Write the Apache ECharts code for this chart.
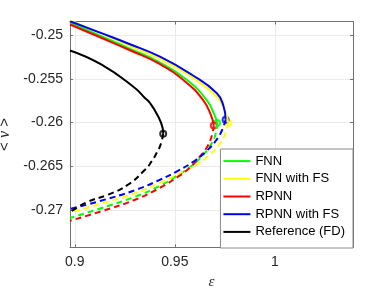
<!DOCTYPE html>
<html>
<head>
<meta charset="utf-8">
<script src="https://cdn.jsdelivr.net/npm/echarts@6/dist/echarts.min.js"></script>
<style>
  html, body { margin: 0; padding: 0; background: #fff; }
  #chartLine { width: 390px; height: 293px; }
</style>
</head>
<body>
<div id="chartLine"></div>
<script>
  // [epsilon, <v>]; upper branch solid, lower branch dashed
  var fnnUpper = [[0.8976, -0.24854], [0.9126, -0.25003], [0.9276, -0.25153], [0.9426, -0.25311], [0.9560, -0.25508], [0.9658, -0.25737], [0.9698, -0.25909], [0.9712, -0.26005]];
  var fnnLower = [[0.9712, -0.26005], [0.9703, -0.26139], [0.9680, -0.26253], [0.9640, -0.26374], [0.9585, -0.26494], [0.9516, -0.26603], [0.9426, -0.26724], [0.9301, -0.26850], [0.9131, -0.26982], [0.8976, -0.27094]];

  var fnnFsUpper = [[0.8976, -0.24826], [0.9126, -0.24971], [0.9276, -0.25118], [0.9426, -0.25267], [0.9575, -0.25462], [0.9690, -0.25661], [0.9745, -0.25829], [0.9767, -0.26001]];
  var fnnFsLower = [[0.9767, -0.26001], [0.9755, -0.26116], [0.9725, -0.26242], [0.9675, -0.26368], [0.9605, -0.26489], [0.9516, -0.26592], [0.9426, -0.26689], [0.9301, -0.26810], [0.9131, -0.26930], [0.8976, -0.27030]];

  var rpnnUpper = [[0.8976, -0.24874], [0.9126, -0.25021], [0.9276, -0.25170], [0.9426, -0.25330], [0.9550, -0.25525], [0.9640, -0.25737], [0.9680, -0.25909], [0.9695, -0.26032]];
  var rpnnLower = [[0.9695, -0.26032], [0.9685, -0.26150], [0.9665, -0.26265], [0.9625, -0.26391], [0.9575, -0.26517], [0.9516, -0.26620], [0.9426, -0.26747], [0.9301, -0.26884], [0.9131, -0.27018], [0.8976, -0.27125]];

  var rpnnFsUpper = [[0.8976, -0.24837], [0.9126, -0.24967], [0.9276, -0.25101], [0.9426, -0.25244], [0.9585, -0.25451], [0.9709, -0.25661], [0.9743, -0.25806], [0.9754, -0.25967]];
  var rpnnFsLower = [[0.9754, -0.25967], [0.9735, -0.26093], [0.9705, -0.26208], [0.9660, -0.26322], [0.9600, -0.26437], [0.9516, -0.26552], [0.9426, -0.26655], [0.9301, -0.26775], [0.9131, -0.26896], [0.8976, -0.26991]];

  var refUpper = [[0.8976, -0.25172], [0.9132, -0.25333], [0.9299, -0.25600], [0.9349, -0.25714], [0.9376, -0.25775], [0.9417, -0.25929], [0.9439, -0.26062], [0.9442, -0.26127]];
  var refLower = [[0.9442, -0.26127], [0.9429, -0.26253], [0.9409, -0.26349], [0.9384, -0.26445], [0.9351, -0.26540], [0.9266, -0.26712], [0.9166, -0.26827], [0.9066, -0.26907], [0.8976, -0.27028]];

  var names = ['FNN', 'FNN with FS', 'RPNN', 'RPNN with FS', 'Reference (FD)'];
  var colors = ['#00ff00', '#ffff00', '#ff0000', '#0000ff', '#000000'];
  var uppers = [fnnUpper, fnnFsUpper, rpnnUpper, rpnnFsUpper, refUpper];
  var lowers = [fnnLower, fnnFsLower, rpnnLower, rpnnFsLower, refLower];

  var xTicks = [0.9, 0.95, 1];
  var yTicks = [-0.27, -0.265, -0.26, -0.255, -0.25];

  var font = 'Liberation Sans, Arial, Helvetica, sans-serif';
  var txt = '#262626';

  var series = [];
  for (var i = 0; i < names.length; i++) {
    series.push({
      name: names[i],
      type: 'line',
      data: uppers[i],
      smooth: 0.5,
      symbol: 'none',
      lineStyle: { color: colors[i], width: 2 },
      itemStyle: { color: colors[i] }
    });
    series.push({
      name: names[i] + ' lower',
      type: 'line',
      data: lowers[i],
      smooth: 0.5,
      symbol: 'none',
      lineStyle: { color: colors[i], width: 2, type: [6, 4] }
    });
    series.push({
      name: names[i] + ' fold',
      type: 'scatter',
      data: [uppers[i][uppers[i].length - 1]],
      symbol: 'circle',
      symbolSize: 6,
      itemStyle: { color: '#fff', borderColor: colors[i], borderWidth: 2 }
    });
  }

  var tickStyle = { color: '#707070' };
  var lineAxis = { show: true, onZero: false, lineStyle: { color: '#707070', width: 1 } };
  var grid = { show: true, lineStyle: { color: '#ebebeb', width: 1 } };

  var chart = echarts.init(document.getElementById('chartLine'));
  chart.setOption({
    animation: false,
    backgroundColor: '#fff',
    grid: { left: 70, right: 37, top: 21.5, bottom: 45.7, outerBoundsMode: 'none', containLabel: false },
    legend: {
      data: names,
      icon: 'rect',
      orient: 'vertical',
      right: 37,
      bottom: 45,
      itemWidth: 27,
      itemHeight: 2,
      itemGap: 3.5,
      padding: [5, 8, 9, 3],
      backgroundColor: '#fff',
      borderColor: '#8a8a8a',
      borderWidth: 1,
      textStyle: { fontFamily: font, fontSize: 13, lineHeight: 14.2, color: '#000' }
    },
    xAxis: [
      {
        type: 'value', min: 0.8976, max: 1.0391,
        name: 'ε', nameLocation: 'middle', nameGap: 24,
        nameTextStyle: { fontFamily: 'Liberation Serif, serif', fontStyle: 'italic', fontSize: 15, color: txt },
        axisLine: lineAxis,
        axisTick: { show: true, inside: true, length: 3, customValues: xTicks, lineStyle: tickStyle },
        axisLabel: {
          show: true, margin: 8, fontFamily: font, fontSize: 14, color: txt,
          customValues: xTicks, formatter: function (v) { return String(+v.toFixed(3)); }
        },
        splitLine: grid
      },
      {
        type: 'value', min: 0.8976, max: 1.0391, position: 'top',
        axisLine: lineAxis,
        axisTick: { show: true, inside: true, length: 3, customValues: xTicks, lineStyle: tickStyle },
        axisLabel: { show: false }, splitLine: { show: false }
      }
    ],
    yAxis: [
      {
        type: 'value', min: -0.2743, max: -0.2484,
        name: '< {i|v} >', nameLocation: 'middle', nameGap: 51,
        nameTextStyle: {
          fontFamily: font, fontSize: 15, color: txt,
          rich: { i: { fontFamily: 'Liberation Serif, serif', fontStyle: 'italic', fontSize: 16, color: txt } }
        },
        axisLine: lineAxis,
        axisTick: { show: true, inside: true, length: 3, customValues: yTicks, lineStyle: tickStyle },
        axisLabel: {
          show: true, margin: 7, fontFamily: font, fontSize: 14, color: txt,
          customValues: yTicks, formatter: function (v) { return String(+v.toFixed(3)); }
        },
        splitLine: grid
      },
      {
        type: 'value', min: -0.2743, max: -0.2484, position: 'right',
        axisLine: lineAxis,
        axisTick: { show: true, inside: true, length: 3, customValues: yTicks, lineStyle: tickStyle },
        axisLabel: { show: false }, splitLine: { show: false }
      }
    ],
    series: series
  });
</script>
</body>
</html>
